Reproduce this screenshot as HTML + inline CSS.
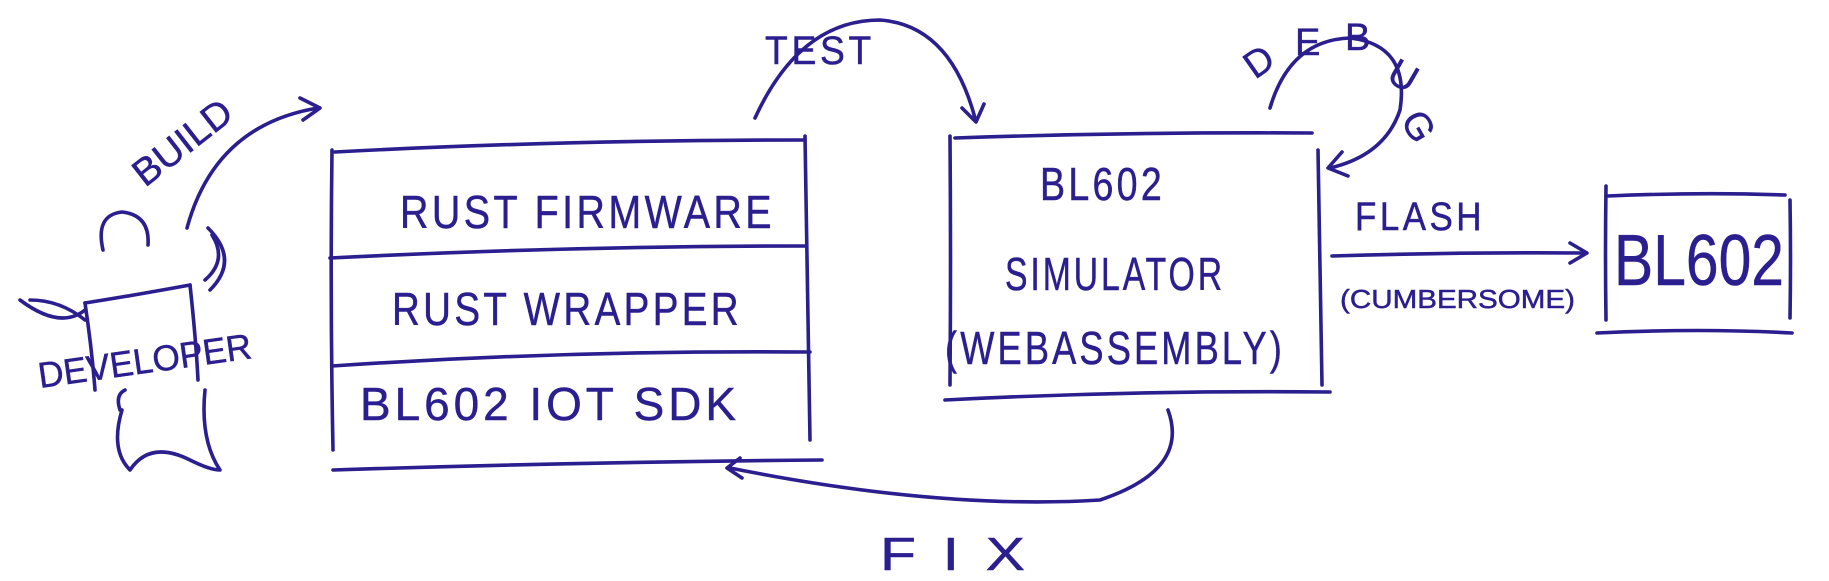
<!DOCTYPE html>
<html><head><meta charset="utf-8"><style>
html,body{margin:0;padding:0;background:#fff;}
svg{display:block}
text{font-family:"Liberation Sans",sans-serif;fill:#2b1f8f;stroke:#2b1f8f;stroke-width:0.5;}
</style></head><body>
<svg width="1829" height="581" viewBox="0 0 1829 581" xmlns="http://www.w3.org/2000/svg">
<g fill="none" stroke="#2b1f8f" stroke-width="3.6" stroke-linecap="round" stroke-linejoin="round">
<path d="M335 152 Q560 140 805 140"/>
<path d="M332 150 Q330 300 333 450"/>
<path d="M805 136 Q808 290 810 440"/>
<path d="M330 258 Q570 246 805 246"/>
<path d="M332 366 Q570 350 810 352"/>
<path d="M333 470 Q580 462 822 460"/>
<path d="M955 138 Q1130 132 1312 133"/>
<path d="M950 136 Q951 260 950 385"/>
<path d="M1318 150 Q1320 270 1322 385"/>
<path d="M945 400 Q1140 390 1330 392"/>
<path d="M1608 196 Q1700 192 1785 195"/>
<path d="M1606 186 Q1605 255 1606 320"/>
<path d="M1790 200 Q1791 260 1790 318"/>
<path d="M1597 333 Q1700 328 1792 333"/>
<path d="M1332 256 Q1460 252 1585 253"/>
<path d="M1570 243 L1587 253 L1570 263"/>
<path d="M755 118 Q800 20 880 20 Q950 25 975 118"/>
<path d="M962 108 L976 122 L984 104"/>
<path d="M1270 108 Q1290 40 1350 38 Q1410 45 1400 110 Q1385 155 1330 168"/>
<path d="M1342 152 L1328 168 L1348 176"/>
<path d="M1168 410 Q1190 470 1100 500 Q940 510 730 468"/>
<path d="M740 458 L727 468 L742 478"/>
<path d="M187 228 Q215 125 318 108"/>
<path d="M300 98 L320 108 L303 120"/>
<path d="M103 250 Q95 215 122 212 Q150 215 148 245"/>
<path d="M85 303 Q130 296 190 285"/>
<path d="M85 303 Q92 350 95 390"/>
<path d="M190 285 Q196 340 198 380"/>
<path d="M20 300 Q60 330 85 310"/>
<path d="M30 300 Q60 300 85 320"/>
<path d="M208 228 Q240 260 210 290"/>
<path d="M212 235 Q228 260 205 280"/>
<path d="M122 410 Q110 450 130 470 Q150 440 190 460 Q210 470 220 470 Q200 440 205 390"/>
<path d="M120 410 Q115 395 125 390"/>
</g>
<g font-size="46" letter-spacing="4">
<text x="400" y="228" textLength="375" lengthAdjust="spacingAndGlyphs">RUST FIRMWARE</text>
<text x="392" y="325" textLength="350" lengthAdjust="spacingAndGlyphs">RUST WRAPPER</text>
<text x="360" y="420" textLength="380" lengthAdjust="spacingAndGlyphs">BL602 IOT SDK</text>
<text x="1040" y="200" textLength="125" lengthAdjust="spacingAndGlyphs">BL602</text>
<text x="1005" y="290" textLength="220" lengthAdjust="spacingAndGlyphs">SIMULATOR</text>
<text x="945" y="364" textLength="340" lengthAdjust="spacingAndGlyphs">(WEBASSEMBLY)</text>
<text x="1355" y="230" font-size="40" textLength="130" lengthAdjust="spacingAndGlyphs">FLASH</text>
<text x="765" y="64" font-size="40" textLength="110" lengthAdjust="spacingAndGlyphs">TEST</text>
<text x="880" y="570" font-size="46" textLength="150" lengthAdjust="spacingAndGlyphs">F I X</text>
</g>
<text x="1340" y="308" font-size="26" textLength="235" lengthAdjust="spacingAndGlyphs">(CUMBERSOME)</text>
<text x="1614" y="285" font-size="72" textLength="170" lengthAdjust="spacingAndGlyphs">BL602</text>
<g font-size="38">
<text x="1255" y="80" transform="rotate(-35 1255 80)">D</text>
<text x="1295" y="55">E</text>
<text x="1345" y="50">B</text>
<text x="1385" y="80" transform="rotate(30 1385 80)">U</text>
<text x="1400" y="120" transform="rotate(60 1400 120)">G</text>
</g>
<text x="145" y="188" font-size="38" transform="rotate(-38 145 188)" textLength="115" lengthAdjust="spacingAndGlyphs">BUILD</text>
<text x="40" y="388" font-size="36" transform="rotate(-8 40 388)" textLength="215" lengthAdjust="spacingAndGlyphs">DEVELOPER</text>
</svg>
</body></html>
